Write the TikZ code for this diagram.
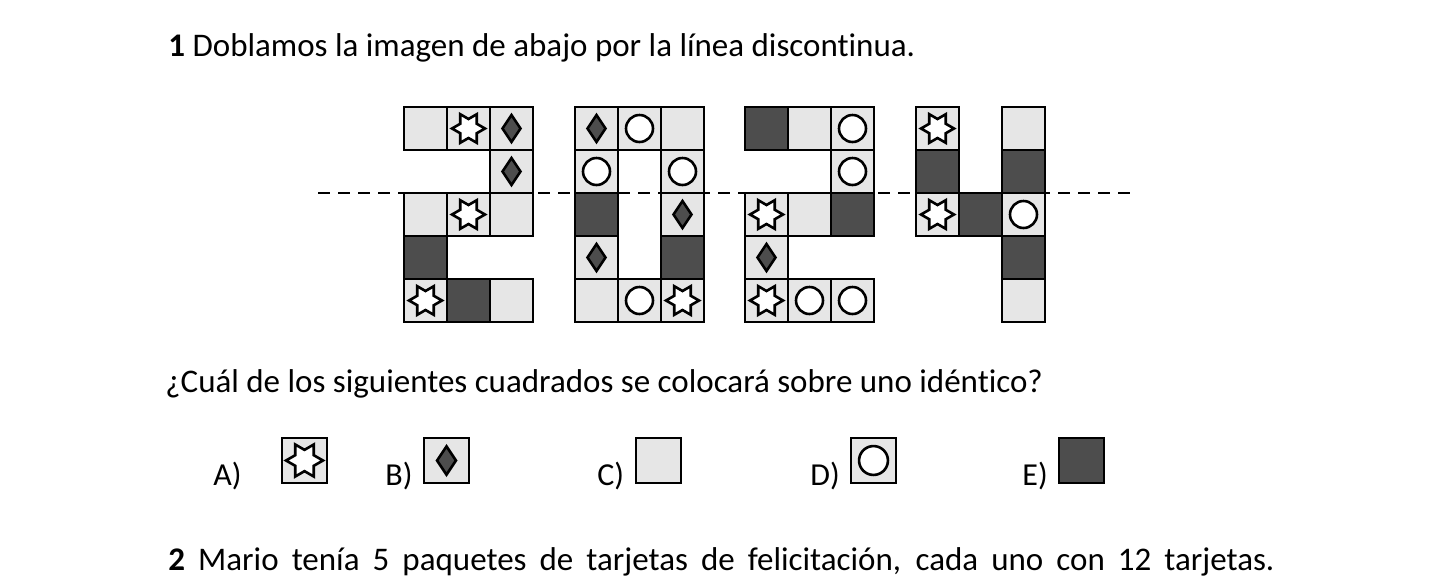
\documentclass[tikz,border=0pt]{standalone}
\usepackage{fontspec}
\setmainfont{Carlito}[Ligatures={NoCommon}]
\definecolor{paleg}{HTML}{E6E6E6}
\definecolor{deepg}{HTML}{4D4D4D}
\newcommand{\symnone}[3][1]{}
\newcommand{\symstar}[3][1]{\draw [symline, fill=white, shift={(#2,#3)}, scale=#1] (0:16.5) \foreach \a in {30,90,...,330} {-- (\a:9.5) -- ({\a+30}:16.5)} -- cycle;}
\newcommand{\symdiam}[3][1]{\draw [symline, fill=deepg, shift={(#2,#3)}, scale=#1] (0,-13.5) -- (9,0) -- (0,13.5) -- (-9,0) -- cycle;}
\newcommand{\symring}[3][1]{\draw [symline, fill=white] (#2,#3) circle [radius=13.5*#1];}

\begin{document}
\begin{tikzpicture}[x=0.5pt, y=-0.5pt,
    cell/.style={draw=black, line width=1pt},
    symline/.style={draw=black, line width=1.3pt, line join=miter},
    fold/.style={line width=1pt, dash pattern=on 6pt off 4pt},
    txt/.style={font=\fontsize{16.5}{20}\selectfont, inner sep=0pt, anchor=base west},
    lbl/.style={font=\fontsize{16}{20}\selectfont, inner sep=0pt, anchor=base west}]
  \useasboundingbox (0,0) rectangle (1446,580);
  \node [txt] (title) at (168,56) {\textbf{1} Doblamos la imagen de abajo por la línea discontinua.};
  \draw [fold] (318,193) -- (1132,193);
  \foreach \dx/\cells in {
      404/{0/0/paleg/none,1/0/paleg/star,2/0/paleg/diam,2/1/paleg/diam,0/2/paleg/none,1/2/paleg/star,2/2/paleg/none,0/3/deepg/none,0/4/paleg/star,1/4/deepg/none,2/4/paleg/none},
      575/{0/0/paleg/diam,1/0/paleg/ring,2/0/paleg/none,0/1/paleg/ring,2/1/paleg/ring,0/2/deepg/none,2/2/paleg/diam,0/3/paleg/diam,2/3/deepg/none,0/4/paleg/none,1/4/paleg/ring,2/4/paleg/star},
      745/{0/0/deepg/none,1/0/paleg/none,2/0/paleg/ring,2/1/paleg/ring,0/2/paleg/star,1/2/paleg/none,2/2/deepg/none,0/3/paleg/diam,0/4/paleg/star,1/4/paleg/ring,2/4/paleg/ring},
      916/{0/0/paleg/star,2/0/paleg/none,0/1/deepg/none,2/1/deepg/none,0/2/paleg/star,1/2/deepg/none,2/2/paleg/ring,2/3/deepg/none,2/4/paleg/none}}
  {
    \foreach \c/\r/\f/\m in \cells {
      \pgfmathsetmacro{\px}{\dx+43*\c}
      \pgfmathsetmacro{\py}{107+43*\r}
      \draw [cell, fill=\f] (\px,\py) rectangle ++(43,43);
      \csname sym\m\endcsname{\px+21.5}{\py+21.5}
    }
  }
  \node [txt] (question) at (165,392) {¿Cuál de los siguientes cuadrados se colocará sobre uno idéntico?};
  \node [lbl] (optA) at (213,485) {A)};
  \node [lbl] (optB) at (385,485) {B)};
  \node [lbl] (optC) at (597,485) {C)};
  \node [lbl] (optD) at (810,485) {D)};
  \node [lbl] (optE) at (1022,485) {E)};
  \draw [cell, fill=paleg] (282,438) rectangle ++(45,45); \symstar[1.12]{304.5}{460.5}
  \draw [cell, fill=paleg] (424,438) rectangle ++(45,45); \symdiam[1.05]{446.5}{460.5}
  \draw [cell, fill=paleg] (636,438) rectangle ++(45,45);
  \draw [cell, fill=paleg] (851,438) rectangle ++(45,45); \symring[1.07]{873.5}{460.5}
  \draw [cell, fill=deepg] (1059,438) rectangle ++(45,45);
  \node [txt] (next) at (168,570) {\makebox[553pt][s]{\textbf{2} Mario tenía 5 paquetes de tarjetas de felicitación, cada uno con 12 tarjetas.}};
\end{tikzpicture}
\end{document}
